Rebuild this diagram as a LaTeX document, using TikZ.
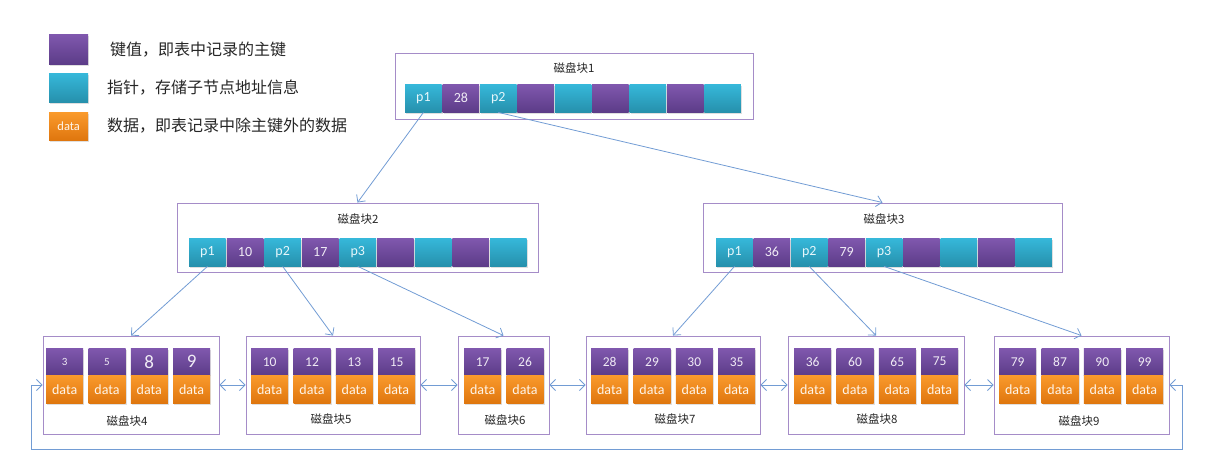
\documentclass[tikz,border=0pt]{standalone}
\usepackage{fontspec}
\setmainfont{Carlito}
\newfontfamily\cjk{Noto Sans CJK SC}
\usetikzlibrary{arrows.meta,shadows}
\definecolor{pTop}{HTML}{8058AE}
\definecolor{pBot}{HTML}{5C3C88}
\definecolor{tTop}{HTML}{36B8DA}
\definecolor{tBot}{HTML}{2690AC}
\definecolor{oTop}{HTML}{FA9A2C}
\definecolor{oBot}{HTML}{DF760E}
\definecolor{boxline}{HTML}{A58CC8}
\definecolor{linkc}{HTML}{729CD4}
\newcommand\keybig[1]{{\fontsize{19}{19}\selectfont #1}}
\newcommand\keysmall[1]{{\fontsize{11}{11}\selectfont #1}}
\begin{document}
\begin{tikzpicture}[x=1pt,y=-1pt,
  cellbase/.style={draw=none, inner sep=0pt, anchor=north west,
    minimum width=36.5pt, minimum height=28pt,
    font=\fontsize{14}{14}\selectfont,
    drop shadow={shadow xshift=1pt, shadow yshift=-1.5pt, opacity=0.25}},
  cellP/.style={cellbase, top color=pTop, bottom color=pBot, text=white!88!pTop},
  cellT/.style={cellbase, top color=tTop, bottom color=tBot, text=white!88!tTop},
  keyc/.style={cellbase, top color=pTop, bottom color=pBot, text=white!88!pTop,
    minimum width=37pt, minimum height=27pt, font=\fontsize{13.5}{13.5}\selectfont},
  datac/.style={cellbase, top color=oTop, bottom color=oBot, text=white!90!oTop,
    minimum width=37pt, minimum height=28pt, font=\fontsize{14}{14}\selectfont},
  blockbox/.style={draw=boxline, line width=0.9pt, inner sep=0pt},
  title/.style={font=\cjk\fontsize{11.5}{11.5}\selectfont, text=black!85, inner sep=0pt},
  legtext/.style={font=\cjk\fontsize{16}{16}\selectfont, text=black!85, anchor=west, inner sep=0pt},
  link/.style={draw=linkc, line width=0.8pt},
  tip/.style={-{Straight Barb[length=5.5pt,width=11pt]}},
  dtip/.style={{Straight Barb[length=5.5pt,width=11pt]}-{Straight Barb[length=5.5pt,width=11pt]}}
]
\useasboundingbox (0,0) rectangle (1223,469);

% legend
\node[cellP, minimum width=39pt, minimum height=30pt] (L1) at (49,34) {};
\node[cellT, minimum width=39pt, minimum height=29pt] (L2) at (49,73) {};
\node[datac, minimum width=39pt, minimum height=28pt, font=\fontsize{12.5}{12.5}\selectfont] (L3) at (49,112) {data};
\node[legtext] (L1t) at (110,50) {键值，即表中记录的主键};
\node[legtext] (L2t) at (107,88) {指针，存储子节点地址信息};
\node[legtext] (L3t) at (107,126) {数据，即表记录中除主键外的数据};

% block 1
\node[blockbox, minimum width=358pt, minimum height=66pt] (B1) at (574,86) {};
\node[title] (B1t) at (574,68) {磁盘块1};
\foreach \t/\c [count=\i from 0] in {p1/T,28/P,p2/T,{}/P,{}/T,{}/P,{}/T,{}/P,{}/T}
  \node[cell\c] (b1c\i) at ({405+37.4*\i},84) {\t};

% block 2
\node[blockbox, minimum width=361pt, minimum height=69pt] (B2) at (357.5,237.5) {};
\node[title] (B2t) at (358,219) {磁盘块2};
\foreach \t/\c [count=\i from 0] in {p1/T,10/P,p2/T,17/P,p3/T,{}/P,{}/T,{}/P,{}/T}
  \node[cell\c] (b2c\i) at ({189+37.6*\i},238) {\t};

% block 3
\node[blockbox, minimum width=359pt, minimum height=69pt] (B3) at (882.5,237.5) {};
\node[title] (B3t) at (884,219) {磁盘块3};
\foreach \t/\c [count=\i from 0] in {p1/T,36/P,p2/T,79/P,p3/T,{}/P,{}/T,{}/P,{}/T}
  \node[cell\c] (b3c\i) at ({716+37.4*\i},238) {\t};

% leaf blocks
\node[blockbox, minimum width=176pt, minimum height=98pt] (B4) at (131,385) {};
\node[blockbox, minimum width=174pt, minimum height=98pt] (B5) at (333,385) {};
\node[blockbox, minimum width=91pt, minimum height=98pt] (B6) at (503.5,385) {};
\node[blockbox, minimum width=174pt, minimum height=98pt] (B7) at (673,385) {};
\node[blockbox, minimum width=176pt, minimum height=98pt] (B8) at (876,385) {};
\node[blockbox, minimum width=175pt, minimum height=98pt] (B9) at (1081.5,385) {};
\node[title] (B4t) at (127,421) {磁盘块4};
\node[title] (B5t) at (331,419) {磁盘块5};
\node[title] (B6t) at (505,420) {磁盘块6};
\node[title] (B7t) at (675,419) {磁盘块7};
\node[title] (B8t) at (877,419) {磁盘块8};
\node[title] (B9t) at (1079,421) {磁盘块9};

\foreach \blk/\x/\keys in {4/46/{\keysmall{3},\keysmall{5},\keybig{8},\keybig{9}},
                           5/251/{10,12,13,15},
                           6/464/{17,26},
                           7/591/{28,29,30,35},
                           8/794/{36,60,65,75},
                           9/999/{79,87,90,99}}{
  \foreach \k [count=\j from 0] in \keys {
    \node[keyc] (k\blk c\j) at ({\x+42.3*\j},348) {\k};
    \node[datac] (d\blk c\j) at ({\x+42.3*\j},375) {data};
  }
}

% tree links
\draw[link,tip] (b1c0.south) -- (B2.north);
\draw[link,tip] (b1c2.south) -- (B3.north);
\draw[link,tip] (b2c0.south) -- (B4.north);
\draw[link,tip] (b2c2.south) -- (B5.north);
\draw[link,tip] (b2c4.south) -- (B6.north);
\draw[link,tip] (b3c0.south) -- (B7.north);
\draw[link,tip] (b3c2.south) -- (B8.north);
\draw[link,tip] (b3c4.south) -- (B9.north);

% leaf links
\draw[link,dtip] (B4.east) -- (B5.west);
\draw[link,dtip] (B5.east) -- (B6.west);
\draw[link,dtip] (B6.east) -- (B7.west);
\draw[link,dtip] (B7.east) -- (B8.west);
\draw[link,dtip] (B8.east) -- (B9.west);
\coordinate (rr) at (1182,449);
\coordinate (rl) at (31,449);
\draw[link,dtip] (B9.east) -| (rr) -- (rl) |- (B4.west);
\end{tikzpicture}
\end{document}
